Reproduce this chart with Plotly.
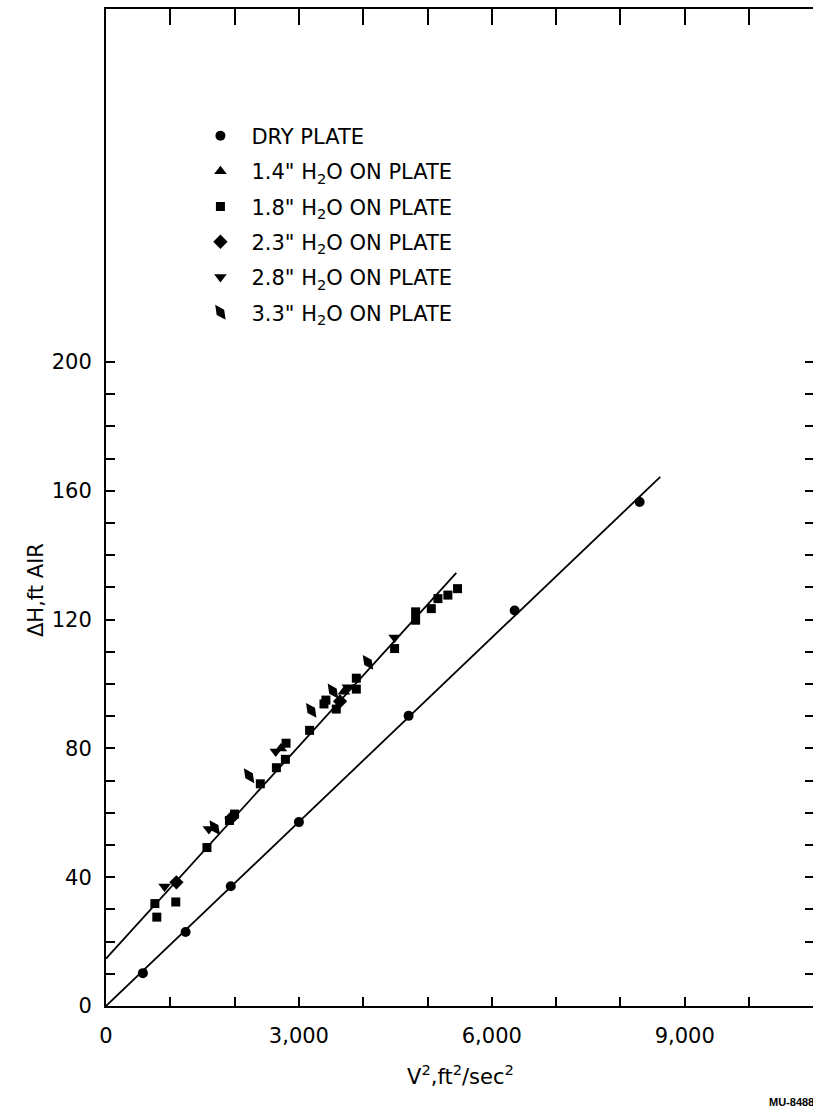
import plotly.graph_objects as go

# ---------------- data ----------------
dry_x = [574, 1238, 1940, 3000, 4706, 6355, 8299]
dry_y = [10.2, 23.0, 37.2, 57.1, 90.1, 122.8, 156.5]

h14_x = [2720, 3700]
h14_y = [80.0, 97.6]

h18_x = [760, 790, 1085, 1570, 1920, 2000, 2400, 2650, 2790, 2800, 3166, 3390, 3420,
         3581, 3893, 3893, 4488, 4815, 4815, 5059, 5162, 5317, 5467]
h18_y = [31.8, 27.6, 32.3, 49.2, 57.6, 59.6, 69.0, 74.0, 76.6, 81.6, 85.6, 93.8, 95.0,
         92.2, 101.8, 98.4, 111.0, 122.4, 119.8, 123.4, 126.5, 127.6, 129.6]

h23_x = [1095, 1950, 3640]
h23_y = [38.4, 58.4, 94.6]

h28_x = [911, 1600, 2640, 3760, 4488]
h28_y = [37.1, 55.0, 79.0, 99.0, 114.4]

h33_x = [1690, 2225, 3192, 3529, 4074]
h33_y = [55.4, 71.5, 91.8, 97.8, 106.7]

# fitted lines (end points)
dry_line_x = [0, 8620]
dry_line_y = [0, 164.3]
wet_line_x = [0, 5448]
wet_line_y = [14.7, 134.5]

x_major = [0, 3000, 6000, 9000]
x_major_text = ["0", "3,000", "6,000", "9,000"]
x_minor = [1000, 2000, 4000, 5000, 7000, 8000, 10000]
x_top = list(range(1000, 10001, 1000))
y_major = [0, 40, 80, 120, 160, 200]
y_major_text = ["0", "40", "80", "120", "160", "200"]
y_minor = [v for v in range(10, 200, 10) if v % 40 != 0]
y_right = list(range(10, 201, 10))

series = [
    ("DRY PLATE", dry_x, dry_y, "circle", 10, 0),
    ('1.4" H<sub>2</sub>O ON PLATE', h14_x, h14_y, "triangle-up", 11, 0),
    ('1.8" H<sub>2</sub>O ON PLATE', h18_x, h18_y, "square", 9, 0),
    ('2.3" H<sub>2</sub>O ON PLATE', h23_x, h23_y, "diamond", 11, 0),
    ('2.8" H<sub>2</sub>O ON PLATE', h28_x, h28_y, "triangle-down", 11, 0),
    ('3.3" H<sub>2</sub>O ON PLATE', h33_x, h33_y, "diamond-tall", 13, -35),
]

FONT = "DejaVu Sans"
fig = go.Figure()

fig.add_trace(go.Scatter(x=dry_line_x, y=dry_line_y, mode="lines",
                         line=dict(color="black", width=1.8), showlegend=False))
fig.add_trace(go.Scatter(x=wet_line_x, y=wet_line_y, mode="lines",
                         line=dict(color="black", width=1.8), showlegend=False))

for i, (name, xs, ys, sym, size, ang) in enumerate(series):
    fig.add_trace(go.Scatter(
        x=xs, y=ys, mode="markers", name=name, legendgroup=f"g{i}",
        marker=dict(symbol=sym, size=size, color="black", angle=ang,
                    line=dict(width=0)),
    ))

# empty trace to activate top / right mirror axes
fig.add_trace(go.Scatter(x=[], y=[], xaxis="x2", yaxis="y2", showlegend=False))

XR = [0, 10995]
YR = [0, 309.6]

minor_style = dict(ticks="inside", ticklen=9, tickwidth=1.5, tickcolor="black",
                   showgrid=False)

fig.update_layout(
    width=813, height=1113,
    margin=dict(l=106, r=0, t=9, b=107),
    paper_bgcolor="white", plot_bgcolor="white",
    font=dict(family=FONT, color="black"),
    xaxis=dict(range=XR, showgrid=False, zeroline=False, showline=True,
               linecolor="black", linewidth=2, ticks="inside", ticklen=9,
               tickwidth=1.5, tickcolor="black", tickvals=x_major,
               ticktext=x_major_text, tickfont=dict(size=21, family=FONT),
               ticklabelstandoff=10,
               minor=dict(tickvals=x_minor, **minor_style)),
    yaxis=dict(range=YR, showgrid=False, zeroline=False, showline=True,
               linecolor="black", linewidth=2, ticks="inside", ticklen=9,
               tickwidth=1.5, tickcolor="black", tickvals=y_major,
               ticktext=y_major_text, tickfont=dict(size=21, family=FONT),
               ticklabelstandoff=8,
               minor=dict(tickvals=y_minor, **minor_style)),
    xaxis2=dict(range=XR, overlaying="x", side="top", anchor="y",
                showgrid=False, zeroline=False, showline=True,
                linecolor="black", linewidth=2, ticks="inside", ticklen=16,
                tickwidth=1.5, tickcolor="black", tickvals=x_top,
                showticklabels=False),
    yaxis2=dict(range=YR, overlaying="y", side="right", anchor="x",
                showgrid=False, zeroline=False, showline=False,
                ticks="inside", ticklen=8, tickwidth=2, tickcolor="black",
                tickvals=y_right, showticklabels=False),
    legend=dict(x=0.118, y=0.893, xanchor="left", yanchor="top",
                font=dict(size=21, family=FONT), traceorder="grouped",
                tracegroupgap=5, itemwidth=52, bgcolor="rgba(0,0,0,0)"),
    showlegend=True,
)

fig.add_annotation(text="ΔH,ft AIR", xref="paper", yref="paper",
                   x=(36 - 106) / 707, y=(1006 - 590) / 997, textangle=-90,
                   showarrow=False, font=dict(size=21, family=FONT),
                   xanchor="center", yanchor="middle")
fig.add_annotation(text="V<sup>2</sup>,ft<sup>2</sup>/sec<sup>2</sup>",
                   xref="paper", yref="paper",
                   x=(460 - 106) / 707, y=-(1075 - 1006) / 997,
                   showarrow=False, font=dict(size=21, family=FONT),
                   xanchor="center", yanchor="middle")
fig.add_annotation(text="<b>MU-8488</b>", xref="paper", yref="paper",
                   x=(767 - 106) / 707, y=-(1102 - 1006) / 997,
                   showarrow=False, font=dict(size=11, family="Liberation Sans"),
                   xanchor="left", yanchor="middle")

fig.write_html("out.html")
